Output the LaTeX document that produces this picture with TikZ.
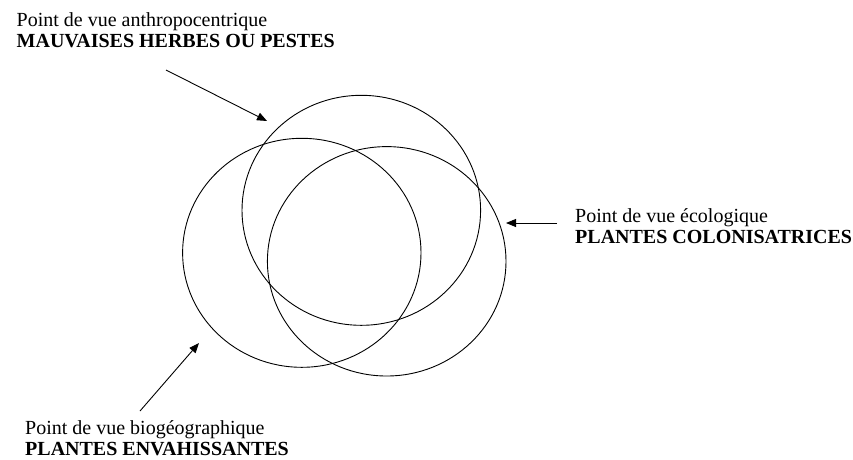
\documentclass[tikz,border=0pt]{standalone}
\usepackage{fontspec}
\setmainfont{Liberation Serif}
\usetikzlibrary{arrows.meta,positioning,shapes.geometric}
\tikzset{
  venn/.style={ellipse, draw=black, line width=0.9pt, inner sep=0pt},
  view/.style={anchor=base west, align=left, inner sep=0pt, font=\fontsize{20}{21}\selectfont},
  sig/.style={-{Triangle[length=10pt,width=8pt]}, line width=0.9pt, draw=black}
}

\begin{document}
\begin{tikzpicture}[x=1pt, y=-1pt]
  \useasboundingbox (0,0) rectangle (853,459);

  % the three points of view
  \node[venn, minimum width=238.6pt, minimum height=230pt] (anthro) at (361.3,210.3) {};
  \node[venn, minimum width=238.4pt, minimum height=229pt] (bio) at (301.8,252.8) {};
  \node[venn, minimum width=238.6pt, minimum height=229.4pt] (eco) at (386.7,261.3) {};

  % labels (base = last line)
  \node[view] (tanthro) at (16.5,47.7) {Point de vue anthropocentrique\\\textbf{MAUVAISES HERBES OU PESTES}};
  \node[view] (teco) at (575,243.3) {Point de vue écologique\\\textbf{PLANTES COLONISATRICES}};
  \node[view] (tbio) at (25,455.3) {Point de vue biogéographique\\\textbf{PLANTES ENVAHISSANTES}};

  % arrows
  \coordinate (a1) at (166,70);
  \coordinate (a2) at (267,121);
  \coordinate (e1) at (557,223);
  \coordinate (e2) at (506,223);
  \coordinate (b1) at (140,411);
  \coordinate (b2) at (199,343);
  \draw[sig] (a1) -- (a2);
  \draw[sig] (e1) -- (e2);
  \draw[sig] (b1) -- (b2);
\end{tikzpicture}
\end{document}
